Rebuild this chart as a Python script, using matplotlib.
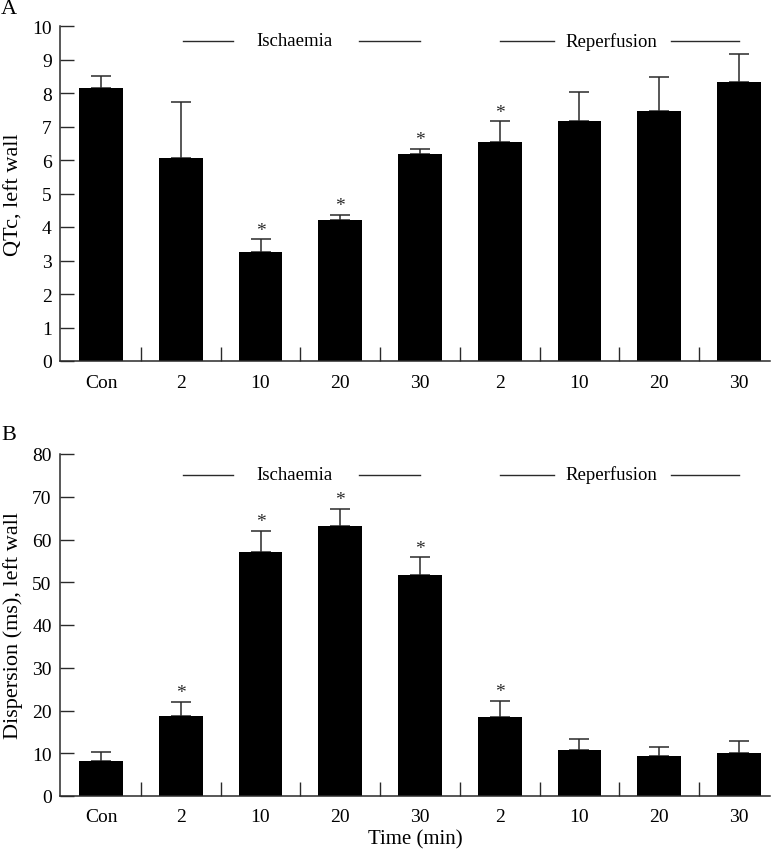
import numpy as np
import matplotlib
matplotlib.use("Agg")
import matplotlib.pyplot as plt

plt.rcParams['font.family'] = ['Liberation Serif', 'DejaVu Serif']

# data
labels = ["Con", "2", "10", "20", "30", "2", "10", "20", "30"]

qtc = [8.16, 6.07, 3.24, 4.21, 6.18, 6.53, 7.17, 7.46, 8.33]
qtc_err = [0.36, 1.66, 0.40, 0.16, 0.16, 0.62, 0.85, 1.03, 0.83]
qtc_sig = [False, False, True, True, True, True, False, False, False]

disp = [8.2, 18.7, 57.0, 63.2, 51.8, 18.5, 10.8, 9.3, 10.0]
disp_err = [2.0, 3.3, 5.1, 4.0, 4.0, 3.8, 2.5, 2.2, 2.8]
disp_sig = [False, True, True, True, True, True, False, False, False]

W, H = 771, 853
fig = plt.figure(figsize=(W / 100, H / 100), dpi=100)

x = np.arange(len(labels))
line_col = "#2a2a2a"


def panel(rect, vals, errs, sig, ymax, ystep, ylabel, star_off, bracket_y):
    ax = fig.add_axes(rect)
    ax.bar(x, vals, width=0.55, color="black", zorder=2)
    ax.errorbar(x, vals, yerr=[np.zeros(len(vals)), errs], fmt="none",
                ecolor=line_col, elinewidth=1.1, capsize=7, capthick=1.1, zorder=1)
    for xi, v, e, s in zip(x, vals, errs, sig):
        if s:
            ax.text(xi, v + e + star_off, "*", ha="center", va="center",
                    fontsize=14, color=line_col)
    ax.set_xlim(-0.515, 8.39)
    ax.set_ylim(0, ymax)
    ax.set_yticks(np.arange(0, ymax + ystep / 2, ystep))
    ax.set_xticks(x)
    ax.set_xticklabels(labels)
    ax.set_xticks(x[:-1] + 0.5, minor=True)
    ax.tick_params(axis="x", which="major", length=0, pad=9, labelsize=14)
    ax.tick_params(axis="x", which="minor", direction="in", length=10,
                   width=1, color=line_col)
    ax.tick_params(axis="y", direction="in", length=10, width=1,
                   color=line_col, labelsize=14, pad=6)
    for s in ["top", "right"]:
        ax.spines[s].set_visible(False)
    for s in ["left", "bottom"]:
        ax.spines[s].set_color(line_col)
        ax.spines[s].set_linewidth(1.1)
    ax.set_ylabel(ylabel, fontsize=16)
    ax.yaxis.set_label_coords(-0.052, 0.5)

    # phase brackets
    for (a, b), name, tx in [((1.03, 4.0), "Ischaemia", 2.43),
                             ((5.0, 8.0), "Reperfusion", 6.4)]:
        half = 0.78 if name == "Ischaemia" else 0.72
        ax.plot([a, tx - half], [bracket_y, bracket_y], color=line_col, lw=1, clip_on=False)
        ax.plot([tx + half + 0.03, b], [bracket_y, bracket_y], color=line_col, lw=1, clip_on=False)
        ax.text(tx, bracket_y, name, ha="center", va="center", fontsize=13.5)
    return ax


ax1 = panel([60 / W, 1 - 362 / H, 710 / W, 335 / H], qtc, qtc_err, qtc_sig,
            10, 1, "QTc, left wall", 0.27, 9.56)
ax2 = panel([60 / W, 1 - 797 / H, 710 / W, 342 / H], disp, disp_err, disp_sig,
            80, 10, "Dispersion (ms), left wall", 2.2, 75.2)
ax2.set_xlabel("Time (min)", fontsize=15, labelpad=3)

fig.text(1 / W, 1 - 9 / H, "A", fontsize=16, va="center", ha="left")
fig.text(1 / W, 1 - 436 / H, "B", fontsize=16, va="center", ha="left")

fig.savefig("out.png", dpi=100)
